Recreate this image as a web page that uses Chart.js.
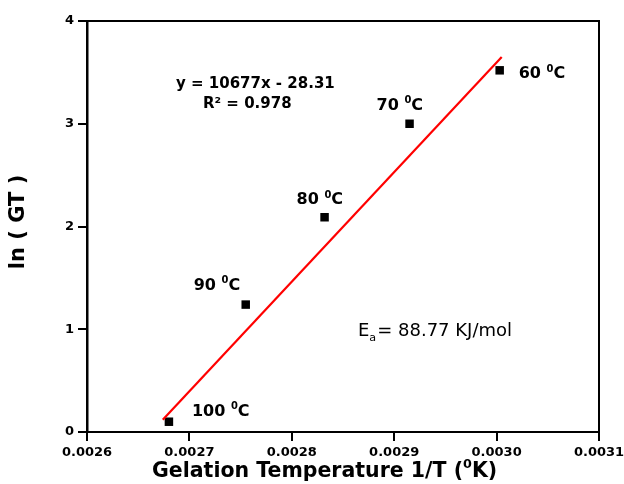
<!DOCTYPE html>
<html>
<head>
<meta charset="utf-8">
<script src="https://cdn.jsdelivr.net/npm/chart.js@4.4.0/dist/chart.umd.min.js"></script>
<style>
  html, body { margin: 0; padding: 0; background: #fff; }
  canvas { display: block; }
</style>
</head>
<body>
<canvas id="gtChart" width="624" height="484"></canvas>
<script>
// values
var tempLabels = ['60', '70', '80', '90', '100'];
var invT = [0.003003, 0.002915, 0.002832, 0.002755, 0.002680];
var lnGT = [3.52, 3.00, 2.09, 1.24, 0.10];
// ends of the fitted red line
var fitX = [0.002674, 0.003005];
var fitY = [0.12, 3.65];
var eqText = 'y = 10677x - 28.31';
var r2Text = '0.978';
var eaText = '= 88.77 KJ/mol';

// where each temperature label sits relative to its point (px)
var labelOffsets = [[19, 2], [-33, -20], [-28, -19], [-52, -21], [23, -12]];

var FONT = '"DejaVu Sans", sans-serif';

function drawParts(ctx, x, y, parts, size, weight) {
  parts.forEach(function (p) {
    var s = p[1] ? size * 0.62 : size;
    ctx.font = weight + ' ' + s + 'px ' + FONT;
    var dy = 0;
    if (p[1] === 'sup') dy = -size * 0.42;
    if (p[1] === 'sub') dy = size * 0.3;
    ctx.fillText(p[0], x, y + dy);
    x += ctx.measureText(p[0]).width;
  });
  return x;
}

var textPlugin = {
  id: 'textPlugin',
  afterDraw: function (chart) {
    var ctx = chart.ctx;
    var area = chart.chartArea;
    var xs = chart.scales.x, ys = chart.scales.y;
    ctx.save();

    // top and right sides of the frame
    ctx.strokeStyle = '#000';
    ctx.lineWidth = 2;
    ctx.beginPath();
    ctx.moveTo(area.left, area.top);
    ctx.lineTo(area.right, area.top);
    ctx.lineTo(area.right, area.bottom);
    ctx.stroke();

    ctx.fillStyle = '#000';
    ctx.textAlign = 'left';
    ctx.textBaseline = 'alphabetic';

    // temperature labels next to the points
    tempLabels.forEach(function (t, i) {
      var px = xs.getPixelForValue(invT[i]) + labelOffsets[i][0];
      var py = ys.getPixelForValue(lnGT[i]) + labelOffsets[i][1] + 6;
      drawParts(ctx, px, py, [[t + ' ', ''], ['0', 'sup'], ['C', '']], 16, 'bold');
    });

    // regression text
    drawParts(ctx, 176, 88, [[eqText, '']], 15, 'bold');
    drawParts(ctx, 203, 108, [['R\u00b2 = ' + r2Text, '']], 15, 'bold');

    // activation energy
    var ex = drawParts(ctx, 358, 336, [['E', ''], ['a', 'sub']], 18, 'normal');
    drawParts(ctx, ex + 1, 336, [[eaText, '']], 18, 'normal');

    // axis titles
    drawParts(ctx, 152, 477, [['Gelation Temperature 1/T (', ''], ['0', 'sup'], ['K)', '']], 20.5, 'bold');

    ctx.translate(24, 222);
    ctx.rotate(-Math.PI / 2);
    ctx.textAlign = 'center';
    ctx.font = 'bold 21px ' + FONT;
    ctx.fillText('ln ( GT )', 0, 0);
    ctx.restore();
  }
};

var points = invT.map(function (x, i) { return { x: x, y: lnGT[i] }; });
var fitLine = fitX.map(function (x, i) { return { x: x, y: fitY[i] }; });

var tickFont = { family: FONT, size: 13, weight: 'bold' };

new Chart(document.getElementById('gtChart'), {
  type: 'scatter',
  data: {
    datasets: [{
      type: 'line',
      data: fitLine,
      borderColor: '#ff0000',
      borderWidth: 2.2,
      pointRadius: 0,
      fill: false
    }, {
      data: points,
      pointStyle: 'rect',
      pointRadius: 6,
      pointBorderWidth: 0,
      backgroundColor: '#000',
      borderColor: '#000'
    }]
  },
  options: {
    responsive: false,
    animation: false,
    layout: { padding: { left: 0, right: 25, top: 21, bottom: 0 } },
    plugins: { legend: { display: false }, tooltip: { enabled: false } },
    scales: {
      x: {
        type: 'linear',
        min: 0.0026,
        max: 0.0031,
        ticks: {
          stepSize: 0.0001,
          color: '#000',
          font: tickFont,
          padding: 4,
          maxRotation: 0,
          autoSkip: false,
          callback: function (v) { return v.toFixed(4); }
        },
        grid: { drawOnChartArea: false, drawTicks: true, tickLength: 9, color: '#000', lineWidth: 2 },
        border: { color: '#000', width: 2 },
        afterFit: function (s) {
          s.height = 52;
          s.paddingLeft = 0;
          s.paddingRight = 0;
        }
      },
      y: {
        min: 0,
        max: 4,
        ticks: {
          stepSize: 1,
          color: '#000',
          font: tickFont,
          padding: 4
        },
        grid: { drawOnChartArea: false, drawTicks: true, tickLength: 9, color: '#000', lineWidth: 2 },
        border: { color: '#000', width: 2.5 },
        afterFit: function (s) {
          s.width = 87;
          s.paddingTop = 0;
          s.paddingBottom = 0;
        }
      }
    }
  },
  plugins: [textPlugin]
});
</script>
</body>
</html>
